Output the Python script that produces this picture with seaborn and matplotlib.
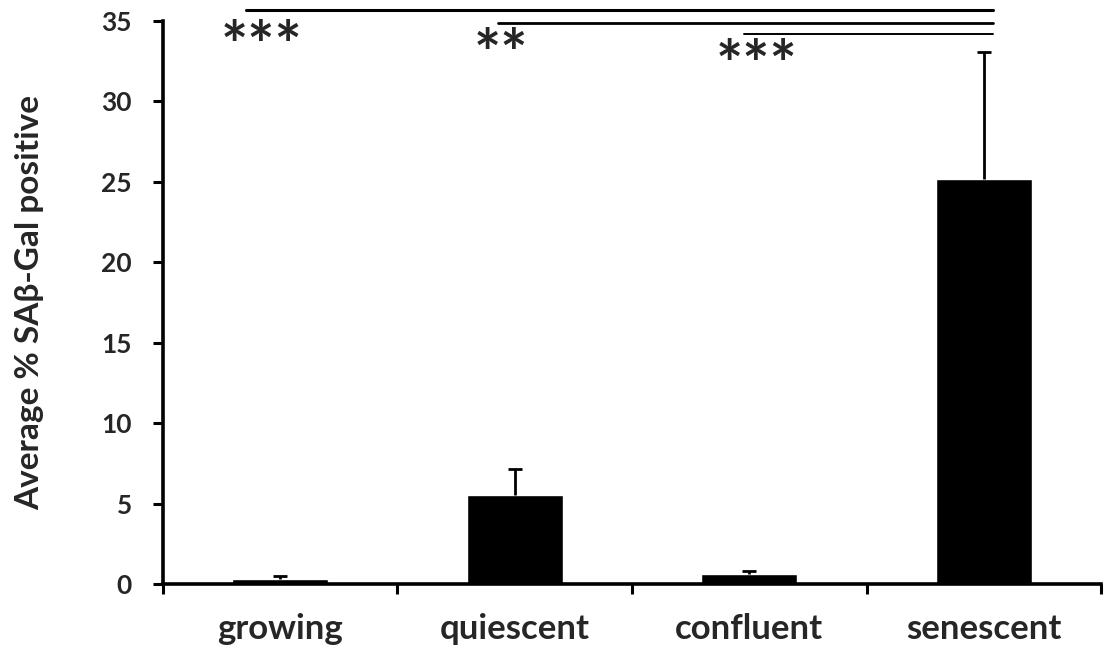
import numpy as np
import pandas as pd
import seaborn as sns
import matplotlib.pyplot as plt

# values
conditions = ['growing', 'quiescent', 'confluent', 'senescent']
mean_pct = [0.3, 5.55, 0.65, 25.2]
err_up = [0.18, 1.6, 0.15, 7.85]

# significance brackets, all ending at senescent
sig_start = [-0.146, 0.93, 1.978]
sig_end = 3.04
sig_y = [35.7, 34.9, 34.2]
sig_lw = [2.2, 2.0, 1.4]
sig_labels = ['***', '**', '***']
sig_lab_x = [-0.078, 0.94, 2.03]
sig_lab_y = [32.1, 31.55, 30.9]

sns.set_style('white')
plt.rcParams['font.family'] = ['Lato', 'DejaVu Sans']

df = pd.DataFrame({'condition': conditions, 'pct': mean_pct})

fig = plt.figure(figsize=(11.04, 6.55), dpi=100)
ax = fig.add_axes([0.1476, 0.1084, 0.8497, 0.8596])

sns.barplot(data=df, x='condition', y='pct', color='black', width=0.41,
            errorbar=None, saturation=1, ax=ax)

# upper error bars only
x = np.arange(len(conditions))
tops = np.array(mean_pct) + np.array(err_up)
ax.vlines(x, mean_pct, tops, color='black', lw=2)
ax.hlines(tops, x - 0.03, x + 0.03, color='black', lw=2)

ax.set_xlim(-0.5, 3.5)
ax.set_ylim(0, 35)
ax.set_yticks(range(0, 36, 5))
ax.set_xlabel('')
ax.set_ylabel('Average % SAβ-Gal positive', fontsize=24, fontweight='bold')
ax.yaxis.label.set_va('center')
ax.yaxis.set_label_coords(-0.142, 0.5)

for s in ['top', 'right']:
    ax.spines[s].set_visible(False)
for s in ['left', 'bottom']:
    ax.spines[s].set_linewidth(2.6)
    ax.spines[s].set_color('black')

ax.tick_params(axis='y', left=True, direction='out', length=7.5, width=2.2,
               labelsize=19, pad=15, color='black')
ax.tick_params(axis='x', which='major', bottom=False, length=0, labelsize=25, pad=21)
ax.set_xticks(np.arange(-0.5, 4, 1), minor=True)
ax.tick_params(axis='x', which='minor', bottom=True, direction='out', length=7.5,
               width=2.2, color='black')
for lab in ax.get_xticklabels() + ax.get_yticklabels():
    lab.set_fontweight('bold')

for x0, y, lw in zip(sig_start, sig_y, sig_lw):
    ax.plot([x0, sig_end], [y, y], color='black', lw=lw, clip_on=False)
for lab, lx, ly in zip(sig_labels, sig_lab_x, sig_lab_y):
    ax.text(lx, ly, lab, fontsize=46, fontweight='bold', va='baseline', ha='center',
            clip_on=False)

fig.savefig('out.png', dpi=100)
